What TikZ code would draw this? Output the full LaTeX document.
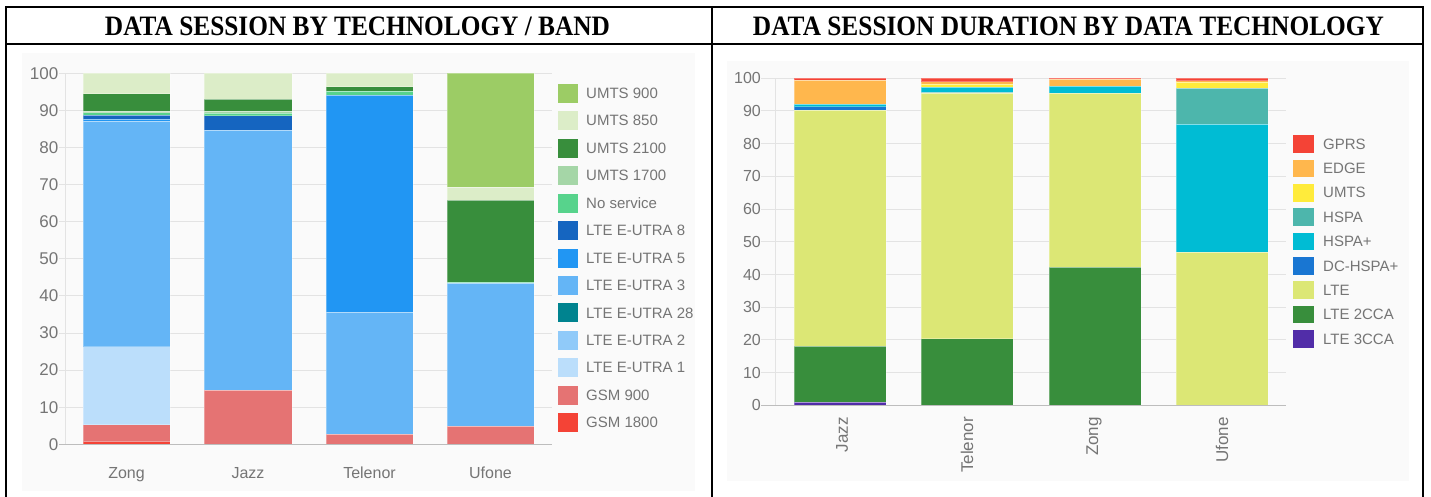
\documentclass[tikz,border=0pt]{standalone}
\usepackage{fontspec}
\setmainfont{Liberation Sans}
\newfontfamily\titlefont{Liberation Serif}
\usepackage{graphicx}
\definecolor{lbl}{HTML}{757575}
\definecolor{chartbg}{HTML}{FAFAFA}
\definecolor{gridc}{HTML}{E3E3E3}
\definecolor{basec}{HTML}{BDBDBD}
% left palette
\definecolor{umtsA}{HTML}{9CCC65}
\definecolor{umtsB}{HTML}{DCEDC8}
\definecolor{umtsC}{HTML}{388E3C}
\definecolor{umtsD}{HTML}{A5D6A7}
\definecolor{nosvc}{HTML}{57D38C}
\definecolor{lteE}{HTML}{1565C0}
\definecolor{lteF}{HTML}{2196F3}
\definecolor{lteC}{HTML}{64B5F6}
\definecolor{lteT}{HTML}{00838F}
\definecolor{lteB}{HTML}{90CAF9}
\definecolor{lteA}{HTML}{BBDEFB}
\definecolor{gsmA}{HTML}{E57373}
\definecolor{gsmB}{HTML}{F44336}
% right palette
\definecolor{gprs}{HTML}{F44336}
\definecolor{edge}{HTML}{FFB74D}
\definecolor{umts}{HTML}{FFEB3B}
\definecolor{hspa}{HTML}{4DB6AC}
\definecolor{hspap}{HTML}{00BCD4}
\definecolor{dchspa}{HTML}{1976D2}
\definecolor{lte}{HTML}{DCE775}
\definecolor{ltetwo}{HTML}{388E3C}
\definecolor{ltethree}{HTML}{512DA8}
\tikzset{
  gridline/.style={draw=gridc, line width=1pt},
  baseline/.style={draw=basec, line width=1.2pt},
  frameline/.style={draw=black, line width=2pt},
  segbox/.style={draw=white, draw opacity=0.3, line width=0.5pt},
  ticklbl/.style={anchor=east, font=\fontsize{16}{19}\selectfont, text=lbl},
  lticklbl/.style={anchor=east, font=\fontsize{17}{20}\selectfont, text=lbl},
  leglbl/.style={anchor=west, font=\fontsize{15}{18}\selectfont, text=lbl},
  catlbl/.style={anchor=base, font=\fontsize{16}{19}\selectfont, text=lbl},
  rcatlbl/.style={rotate=90, anchor=east, font=\fontsize{17}{20}\selectfont, text=lbl},
}
\newcommand\barseg[5]{\fill[#5, segbox] (#1,#3) rectangle (#2,#4);}
\begin{document}
\begin{tikzpicture}[x=1pt,y=-1pt, every node/.style={inner sep=0pt}]
\useasboundingbox (0,0) rectangle (1431,497);
\fill[white] (0,0) rectangle (1431,497);
% chart backgrounds
\fill[chartbg] (22,53) rectangle (695,491);
\fill[chartbg] (727,61) rectangle (1409,481);

% ---------------- LEFT CHART ----------------
\foreach \k in {1,...,10} {
  \pgfmathsetmacro\yy{444.3-37.1*\k}
  \draw[gridline] (59,\yy) -- (552,\yy);
}
\draw[gridline] (65,73.3) -- (65,444.3);
\foreach \k in {0,...,10} {
  \pgfmathsetmacro\yy{444.3-37.1*\k}
  \pgfmathtruncatemacro\vv{10*\k}
  \node[lticklbl] (lt\k) at (58.5,\yy) {\vv};
}
\begin{scope}[shift={(0,444.3)}, yscale=-3.71]
% Zong
\barseg{83}{170}{0}{0.7}{gsmB}
\barseg{83}{170}{0.7}{5.3}{gsmA}
\barseg{83}{170}{5.3}{26.3}{lteA}
\barseg{83}{170}{26.3}{87.2}{lteC}
\barseg{83}{170}{87.2}{87.6}{lteF}
\barseg{83}{170}{87.6}{88.8}{lteE}
\barseg{83}{170}{88.8}{89.4}{nosvc}
\barseg{83}{170}{89.4}{89.9}{umtsD}
\barseg{83}{170}{89.9}{94.5}{umtsC}
\barseg{83}{170}{94.5}{100}{umtsB}
% Jazz
\barseg{204}{292}{0}{14.7}{gsmA}
\barseg{204}{292}{14.7}{84.7}{lteC}
\barseg{204}{292}{84.7}{88.6}{lteE}
\barseg{204}{292}{88.6}{89.3}{nosvc}
\barseg{204}{292}{89.3}{89.8}{umtsD}
\barseg{204}{292}{89.8}{93.1}{umtsC}
\barseg{204}{292}{93.1}{100}{umtsB}
% Telenor
\barseg{326}{413}{0}{2.7}{gsmA}
\barseg{326}{413}{2.7}{35.7}{lteC}
\barseg{326}{413}{35.7}{94.1}{lteF}
\barseg{326}{413}{94.1}{95.2}{nosvc}
\barseg{326}{413}{95.2}{96.4}{umtsC}
\barseg{326}{413}{96.4}{100}{umtsB}
% Ufone
\barseg{447}{534}{0}{4.8}{gsmA}
\barseg{447}{534}{4.8}{43.4}{lteC}
\barseg{447}{534}{43.4}{43.8}{nosvc}
\barseg{447}{534}{43.8}{65.8}{umtsC}
\barseg{447}{534}{65.8}{69.3}{umtsB}
\barseg{447}{534}{69.3}{100}{umtsA}
\end{scope}
\draw[baseline] (59,444.3) -- (552,444.3);
\node[catlbl] (lz) at (126.5,478) {Zong};
\node[catlbl] (lj) at (248,478) {Jazz};
\node[catlbl] (lte) at (369.5,478) {Telenor};
\node[catlbl] (lu) at (490.5,478) {Ufone};
% left legend
\foreach \c/\t [count=\i from 0] in {umtsA/UMTS 900, umtsB/UMTS 850, umtsC/UMTS 2100, umtsD/UMTS 1700, nosvc/No service, lteE/LTE E-UTRA 8, lteF/LTE E-UTRA 5, lteC/LTE E-UTRA 3, lteT/LTE E-UTRA 28, lteB/LTE E-UTRA 2, lteA/LTE E-UTRA 1, gsmA/GSM 900, gsmB/GSM 1800} {
  \pgfmathsetmacro\yy{93.3+27.45*\i}
  \fill[\c] (558,\yy-9.5) rectangle (578,\yy+9.5);
  \node[leglbl] (ll\i) at (586,\yy) {\t};
}

% ---------------- RIGHT CHART ----------------
\foreach \k in {1,...,10} {
  \pgfmathsetmacro\yy{405.3-32.7*\k}
  \draw[gridline] (761,\yy) -- (1286,\yy);
}
\draw[gridline] (775.3,78.3) -- (775.3,405.3);
\foreach \k in {0,...,10} {
  \pgfmathsetmacro\yy{405.3-32.7*\k}
  \pgfmathtruncatemacro\vv{10*\k}
  \node[ticklbl] (rt\k) at (761,\yy) {\vv};
}
\begin{scope}[shift={(0,405.3)}, yscale=-3.27]
% Jazz
\barseg{794}{886}{0}{0.9}{ltethree}
\barseg{794}{886}{0.9}{18.2}{ltetwo}
\barseg{794}{886}{18.2}{90.3}{lte}
\barseg{794}{886}{90.3}{91.3}{dchspa}
\barseg{794}{886}{91.3}{92.2}{hspap}
\barseg{794}{886}{92.2}{99.4}{edge}
\barseg{794}{886}{99.4}{100}{gprs}
% Telenor
\barseg{921}{1013}{0}{20.4}{ltetwo}
\barseg{921}{1013}{20.4}{95.5}{lte}
\barseg{921}{1013}{95.5}{95.8}{hspa}
\barseg{921}{1013}{95.8}{97.3}{hspap}
\barseg{921}{1013}{97.3}{98.2}{umts}
\barseg{921}{1013}{98.2}{99.0}{edge}
\barseg{921}{1013}{99.0}{100}{gprs}
% Zong
\barseg{1049}{1141}{0}{42.2}{ltetwo}
\barseg{1049}{1141}{42.2}{95.4}{lte}
\barseg{1049}{1141}{95.4}{97.5}{hspap}
\barseg{1049}{1141}{97.5}{99.8}{edge}
\barseg{1049}{1141}{99.8}{100}{gprs}
% Ufone
\barseg{1176}{1268}{0}{46.9}{lte}
\barseg{1176}{1268}{46.9}{85.9}{hspap}
\barseg{1176}{1268}{85.9}{96.9}{hspa}
\barseg{1176}{1268}{96.9}{98.9}{umts}
\barseg{1176}{1268}{98.9}{99.3}{edge}
\barseg{1176}{1268}{99.3}{100}{gprs}
\end{scope}
\draw[baseline] (761,405.3) -- (1286,405.3);
\node[rcatlbl] (rj) at (842,417) {Jazz};
\node[rcatlbl] (rte) at (967,417) {Telenor};
\node[rcatlbl] (rz) at (1094,417) {Zong};
\node[rcatlbl] (ru) at (1222,417) {Ufone};
% right legend
\foreach \c/\t [count=\i from 0] in {gprs/GPRS, edge/EDGE, umts/UMTS, hspa/HSPA, hspap/HSPA+, dchspa/DC-HSPA+, lte/LTE, ltetwo/LTE 2CCA, ltethree/LTE 3CCA} {
  \pgfmathsetmacro\yy{144+24.37*\i}
  \fill[\c] (1293,\yy-8.8) rectangle (1314,\yy+8.8);
  \node[leglbl] (rl\i) at (1323,\yy) {\t};
}

% ---------------- FRAME AND TITLES ----------------
\draw[frameline] (6,497) -- (6,7) -- (1423,7) -- (1423,497);
\draw[frameline] (712,7) -- (712,497);
\draw[frameline] (6,44) -- (1423,44);
\node[anchor=base] (tl) at (357.5,36) {\resizebox{505pt}{18.6pt}{\titlefont\bfseries DATA SESSION BY TECHNOLOGY / BAND}};
\node[anchor=base] (tr) at (1068.5,36) {\resizebox{631pt}{18.6pt}{\titlefont\bfseries DATA SESSION DURATION BY DATA TECHNOLOGY}};
\end{tikzpicture}
\end{document}
